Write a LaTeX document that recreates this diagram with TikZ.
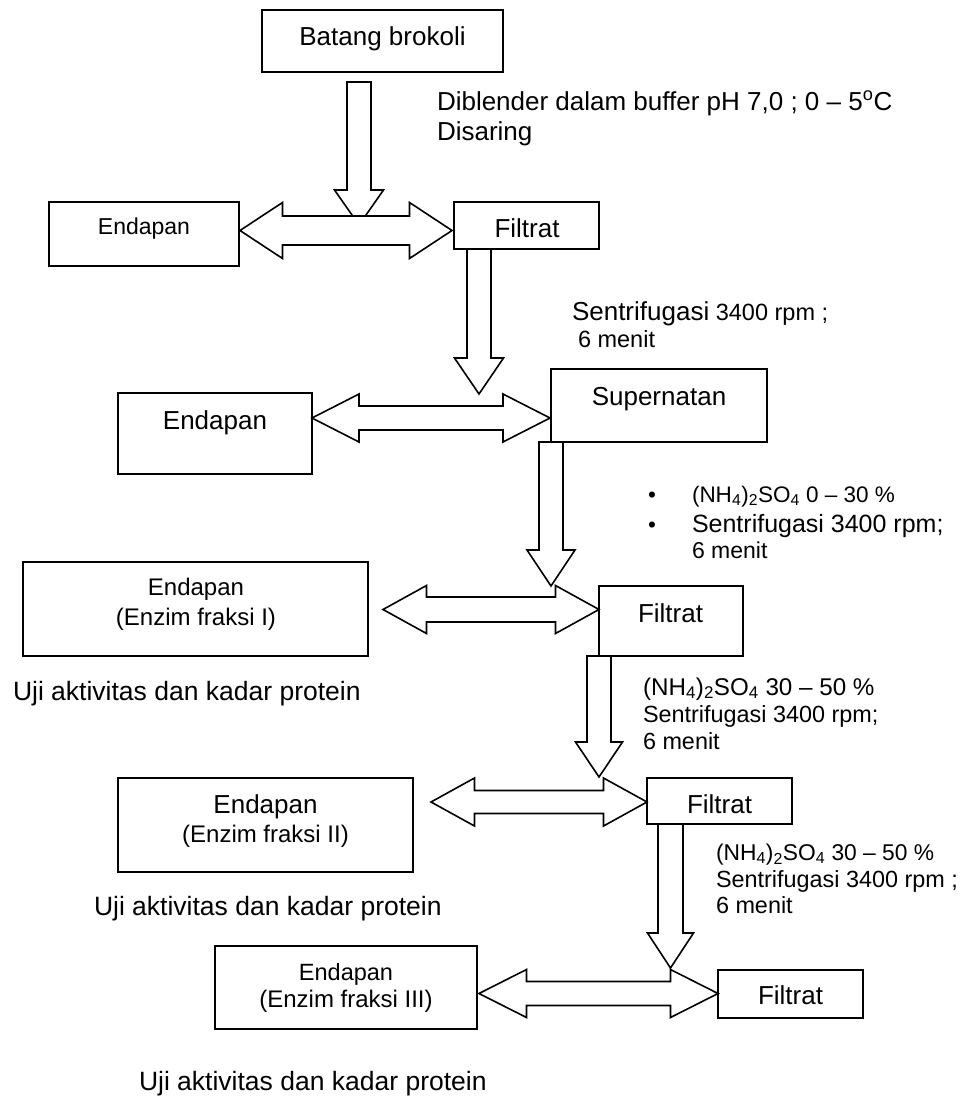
\documentclass[tikz,border=0pt]{standalone}
\usepackage{fontspec}
\setmainfont{Liberation Sans}
\usetikzlibrary{calc,fit}
\newcommand\fsz[1]{\fontsize{#1}{30}\selectfont}
\newcommand\mybox[5]{\coordinate (#1-nw) at (#2,#3); \coordinate (#1-se) at (#4,#5); \node[boxst, fit=(#1-nw)(#1-se)] (#1) {};}
% vertical block arrow: #1 start (top centre), #2 tip, #3 head length, #4 shaft half width, #5 head half width
\newcommand\vblock[5]{\draw[blk] ($(#1)+(-#4,0)$) -- ($(#2)+(-#4,-#3)$) -- ($(#2)+(-#5,-#3)$) -- (#2) -- ($(#2)+(#5,-#3)$) -- ($(#2)+(#4,-#3)$) -- ($(#1)+(#4,0)$) -- cycle;}
% double block arrow: #1 left tip, #2 right tip, #3 head length, #4 shaft half width, #5 head half width
\newcommand\hblock[5]{\draw[blk] (#1) -- ($(#1)+(#3,-#5)$) -- ($(#1)+(#3,-#4)$) -- ($(#2)+(-#3,-#4)$) -- ($(#2)+(-#3,-#5)$) -- (#2) -- ($(#2)+(-#3,#5)$) -- ($(#2)+(-#3,#4)$) -- ($(#1)+(#3,#4)$) -- ($(#1)+(#3,#5)$) -- cycle;}
\tikzset{
  boxst/.style={draw=black, line width=1.6pt, fill=white, inner sep=0pt, outer sep=0pt},
  blk/.style={draw=black, line width=1.6pt, fill=white, line join=miter},
  tx/.style={inner sep=0pt, outer sep=0pt, anchor=base west, text=black},
  tc/.style={inner sep=0pt, outer sep=0pt, anchor=base, text=black},
}
\begin{document}
\begin{tikzpicture}[x=1pt, y=-1pt]
\fill[white] (0,0) rectangle (967,1100);
\useasboundingbox (0,0) rectangle (967,1100);

% boxes
\mybox{batang}{262}{10}{503}{72}
\mybox{e1}{49}{202}{239}{266}
\mybox{f1}{454}{202}{599}{249}
\mybox{e2}{118}{393}{312}{474}
\mybox{sup}{551}{369}{767}{442}
\mybox{e3}{23}{562}{368}{656}
\mybox{f3}{599}{586}{743}{656}
\mybox{e4}{118}{778}{413}{872}
\mybox{f4}{647}{778}{792}{824}
\mybox{e5}{215}{946}{477}{1029}
\mybox{f5}{718}{970}{863}{1018}

% box texts
\node[tc, font=\fsz{26}] (tbat) at (382.5,45) {Batang brokoli};
\node[tc, font=\fsz{23}] (te1) at (144,234) {Endapan};
\node[tc, font=\fsz{26}] (tf1) at (527,237) {Filtrat};
\node[tc, font=\fsz{26}] (te2) at (215,429) {Endapan};
\node[tc, font=\fsz{26}] (tsup) at (659,405) {Supernatan};
\node[tc, font=\fsz{24}] (te3a) at (196,595) {Endapan};
\node[tc, font=\fsz{24}] (te3b) at (196,625) {(Enzim fraksi I)};
\node[tc, font=\fsz{26}] (tf3) at (670.5,622) {Filtrat};
\node[tc, font=\fsz{26}] (te4a) at (265.5,813) {Endapan};
\node[tc, font=\fsz{24}] (te4b) at (265.5,842) {(Enzim fraksi II)};
\node[tc, font=\fsz{26}] (tf4) at (719.5,813) {Filtrat};
\node[tc, font=\fsz{23.5}] (te5a) at (346,980) {Endapan};
\node[tc, font=\fsz{24}] (te5b) at (346,1007) {(Enzim fraksi III)};
\node[tc, font=\fsz{26}] (tf5) at (790.5,1004) {Filtrat};

% process texts
\node[tx, font=\fsz{26}] (p0a) at (437,110) {Diblender dalam buffer pH 7,0 ; 0 – 5\textsuperscript{o}C};
\node[tx, font=\fsz{26}] (p0b) at (437,140) {Disaring};

\node[tx, font=\fsz{26}] (p1a) at (572,320) {Sentrifugasi{\fsz{23.5} 3400 rpm ;}};
\node[tx, font=\fsz{23.5}] (p1b) at (578,347) {6 menit};

\node[tc, font=\fsz{22.5}] (bul1) at (652,502) {•};
\node[tc, font=\fsz{22.5}] (bul2) at (652,532) {•};
\node[tx, font=\fsz{22.5}] (p2a) at (692,502) {(NH\textsubscript{4})\textsubscript{2}SO\textsubscript{4} 0 – 30 \%};
\node[tx, font=\fsz{25}] (p2b) at (692,532) {Sentrifugasi 3400 rpm;};
\node[tx, font=\fsz{23}] (p2c) at (692,558) {6 menit};

\node[tx, font=\fsz{24.2}] (p3a) at (643,695) {(NH\textsubscript{4})\textsubscript{2}SO\textsubscript{4} 30 – 50 \%};
\node[tx, font=\fsz{23.4}] (p3b) at (643,722) {Sentrifugasi 3400 rpm;};
\node[tx, font=\fsz{23.4}] (p3c) at (643,749) {6 menit};

\node[tx, font=\fsz{22.8}] (p4a) at (716,860) {(NH\textsubscript{4})\textsubscript{2}SO\textsubscript{4} 30 – 50 \%};
\node[tx, font=\fsz{23.4}] (p4b) at (716,887) {Sentrifugasi 3400 rpm ;};
\node[tx, font=\fsz{23.4}] (p4c) at (716,913) {6 menit};

\node[tx, font=\fsz{26.5}] (u1) at (13,700) {Uji aktivitas dan kadar protein};
\node[tx, font=\fsz{26.5}] (u2) at (94,915) {Uji aktivitas dan kadar protein};
\node[tx, font=\fsz{26.5}] (u3) at (139,1090) {Uji aktivitas dan kadar protein};

% arrow end points
\coordinate (v1s) at (359,82);   \coordinate (v1t) at (359,225);
\coordinate (v2s) at (479,249);  \coordinate (v2t) at (479,394);
\coordinate (v3s) at (551,442);  \coordinate (v3t) at (551,586);
\coordinate (v4s) at (599,656);  \coordinate (v4t) at (599,777);
\coordinate (v5s) at (670.5,824); \coordinate (v5t) at (670.5,968);

\coordinate (h1l) at (240,230.5); \coordinate (h1r) at (452,230.5);
\coordinate (h2l) at (312,418);   \coordinate (h2r) at (550,418);
\coordinate (h3l) at (383,609.5); \coordinate (h3r) at (599,609.5);
\coordinate (h4l) at (431,802);   \coordinate (h4r) at (647,802);
\coordinate (h5l) at (479,993.5); \coordinate (h5r) at (718,993.5);

% downward block arrows
\vblock{v1s}{v1t}{35}{12}{24.5}
\vblock{v2s}{v2t}{36}{12}{24.5}
\vblock{v3s}{v3t}{36}{12}{24}
\vblock{v4s}{v4t}{35}{12}{23.5}
\vblock{v5s}{v5t}{35}{12.5}{23}

% double block arrows
\hblock{h1l}{h1r}{42.5}{14.5}{28}
\hblock{h2l}{h2r}{47}{12}{24}
\hblock{h3l}{h3r}{43.5}{12.5}{24}
\hblock{h4l}{h4r}{43.5}{11.5}{24}
\hblock{h5l}{h5r}{47.5}{12}{24}
\end{tikzpicture}
\end{document}
